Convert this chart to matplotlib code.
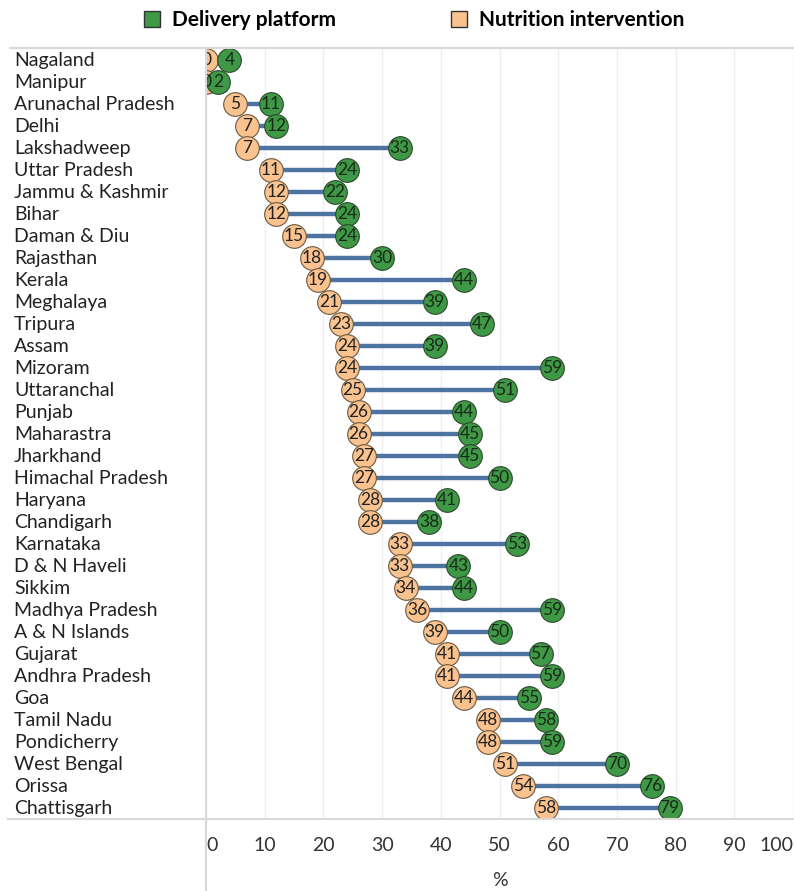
import numpy as np
import matplotlib as mpl
mpl.use("Agg")
import matplotlib.pyplot as plt
from matplotlib.lines import Line2D
from matplotlib.transforms import blended_transform_factory

plt.rcParams['font.family'] = ['Lato', 'DejaVu Sans']

states = ['Nagaland', 'Manipur', 'Arunachal Pradesh', 'Delhi', 'Lakshadweep',
          'Uttar Pradesh', 'Jammu & Kashmir', 'Bihar', 'Daman & Diu', 'Rajasthan',
          'Kerala', 'Meghalaya', 'Tripura', 'Assam', 'Mizoram', 'Uttaranchal',
          'Punjab', 'Maharastra', 'Jharkhand', 'Himachal Pradesh', 'Haryana',
          'Chandigarh', 'Karnataka', 'D & N Haveli', 'Sikkim', 'Madhya Pradesh',
          'A & N Islands', 'Gujarat', 'Andhra Pradesh', 'Goa', 'Tamil Nadu',
          'Pondicherry', 'West Bengal', 'Orissa', 'Chattisgarh']
nutrition = [0, 0, 5, 7, 7, 11, 12, 12, 15, 18, 19, 21, 23, 24, 24, 25, 26, 26,
             27, 27, 28, 28, 33, 33, 34, 36, 39, 41, 41, 44, 48, 48, 51, 54, 58]
delivery = [4, 2, 11, 12, 33, 24, 22, 24, 24, 30, 44, 39, 47, 39, 59, 51, 44, 45,
            45, 50, 41, 38, 53, 43, 44, 59, 50, 57, 59, 55, 58, 59, 70, 76, 79]
xticks = list(range(0, 101, 10))

green = '#3f9845'
orange = '#f9c28e'
linec = '#4d74a0'
framec = '#d9d9d9'

W, H = 794, 891
fig = plt.figure(figsize=(W / 100, H / 100), dpi=100)
ax = fig.add_axes([206 / W, 1 - 819 / H, 587 / W, (819 - 48) / H])

y = np.arange(len(states))
ax.hlines(y, nutrition, delivery, color=linec, linewidth=3.2, zorder=2)
ax.scatter(nutrition, y, s=290, color=orange, edgecolor='#6b5a40', linewidth=0.8, zorder=3)
ax.scatter(delivery, y, s=290, color=green, edgecolor='#2a4a2a', linewidth=0.8, zorder=4)
for yi, n, d in zip(y, nutrition, delivery):
    ax.text(n, yi, str(n), ha='center', va='center', fontsize=12.5,
            color='#222222', zorder=5, clip_on=True)
    ax.text(d, yi, str(d), ha='center', va='center', fontsize=12.5,
            color='#1a2a1a', zorder=5, clip_on=True)

ax.set_xlim(0, 100)
ax.set_ylim(len(states) - 0.5, -0.55)
ax.set_xticks(xticks)
ax.set_xticklabels([str(t) for t in xticks], fontsize=14, color='#333333')
ax.get_xticklabels()[0].set_horizontalalignment('left')
ax.get_xticklabels()[-1].set_horizontalalignment('right')
ax.tick_params(axis='x', length=0, pad=13)
ax.set_yticks(y)
ax.set_yticklabels([])
ax.tick_params(axis='y', length=0)
ax.grid(axis='x', color='#eeeeee', linewidth=1)
ax.set_axisbelow(True)
for s in ax.spines.values():
    s.set_visible(False)
ax.set_xlabel('%', fontsize=14, color='#333333', labelpad=13)

# state labels, left aligned at the figure edge
trans = blended_transform_factory(fig.transFigure, ax.transData)
for yi, name in zip(y, states):
    ax.text(14 / W, yi, name, transform=trans, ha='left', va='center',
            fontsize=14, color='#222222')

# frame lines
fig.add_artist(Line2D([10 / W, 1], [1 - 48 / H] * 2, color=framec, linewidth=1.5))
fig.add_artist(Line2D([8 / W, 1], [1 - 819 / H] * 2, color=framec, linewidth=1.5))
fig.add_artist(Line2D([206 / W] * 2, [0, 1 - 48 / H], color=framec, linewidth=1.5))

# legend
handles = [Line2D([], [], marker='s', linestyle='none', markersize=12,
                  markerfacecolor=green, markeredgecolor='#333333', label='Delivery platform'),
           Line2D([], [], marker='s', linestyle='none', markersize=12,
                  markerfacecolor=orange, markeredgecolor='#333333', label='Nutrition intervention')]
fig.legend(handles=handles, loc='center', bbox_to_anchor=(413 / W, 1 - 20 / H), ncol=2,
           frameon=False, prop={'size': 15, 'weight': 'bold'}, handlelength=1.0,
           handletextpad=0.45, columnspacing=5.45)

fig.savefig('out.png', dpi=100)
plt.close(fig)
